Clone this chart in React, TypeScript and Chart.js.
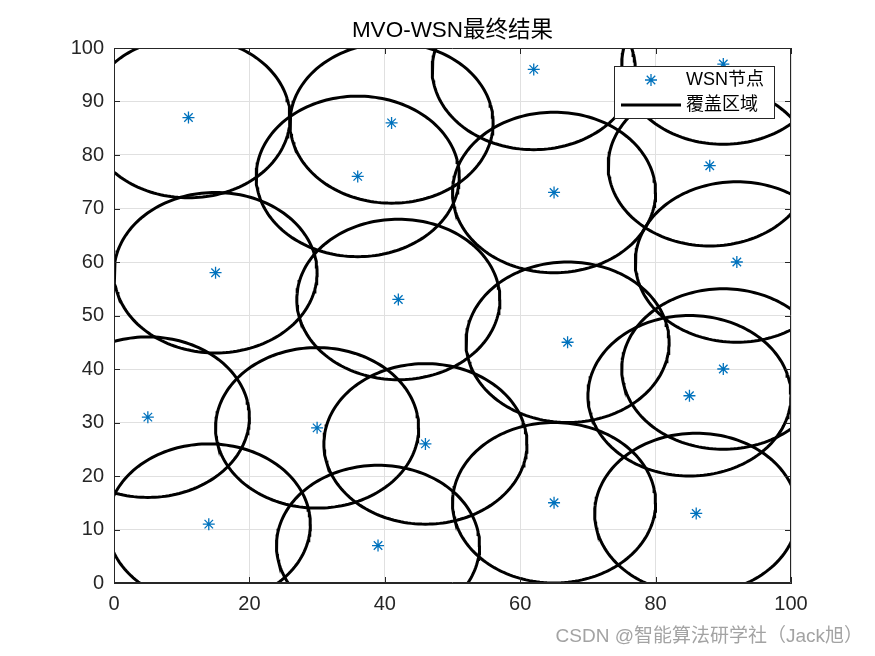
import React, { useEffect, useRef } from "react";
import { Chart, registerables } from "chart.js";

Chart.register(...registerables);

const TITLE = "MVO-WSN最终结果";
const NODE_LABEL = "WSN节点";
const AREA_LABEL = "覆盖区域";
const WATERMARK = "CSDN @智能算法研学社（Jack旭）";

const nodeX = [11, 36, 41, 62, 65, 90, 88, 15, 42, 92, 67, 5, 30, 46, 85, 90, 14, 39, 65, 86];
const nodeY = [87, 76, 86, 96, 73, 97, 78, 58, 53, 60, 45, 31, 29, 26, 35, 40, 11, 7, 15, 13];
const RADIUS = 15;
const xTicks = [0, 20, 40, 60, 80, 100];
const yTicks = [0, 10, 20, 30, 40, 50, 60, 70, 80, 90, 100];

const FONT = "Arial, 'Liberation Sans', 'Noto Sans CJK SC', sans-serif";
const AXIS_COLOR = "#262626";
const NODE_COLOR = "#0072BD";

function circlePoints(cx: number, cy: number, r: number) {
  const pts: { x: number; y: number }[] = [];
  const n = 180;
  for (let i = 0; i <= n; i++) {
    const t = (i / n) * Math.PI * 2;
    pts.push({ x: cx + r * Math.cos(t), y: cy + r * Math.sin(t) });
  }
  return pts;
}

const decorPlugin = {
  id: "decor",
  afterDraw(chart: any) {
    const { ctx, chartArea } = chart;
    const { left, right, top, bottom } = chartArea;
    const xs = chart.scales.x;
    const ys = chart.scales.y;
    ctx.save();
    // box
    ctx.strokeStyle = AXIS_COLOR;
    ctx.lineWidth = 1;
    ctx.beginPath();
    ctx.rect(left + 0.5, top + 0.5, right - left - 1, bottom - top - 1);
    ctx.stroke();
    // inward ticks
    ctx.beginPath();
    const tl = 6;
    for (const v of xTicks) {
      const px = Math.round(xs.getPixelForValue(v)) + 0.5;
      ctx.moveTo(px, bottom);
      ctx.lineTo(px, bottom - tl);
      ctx.moveTo(px, top);
      ctx.lineTo(px, top + tl);
    }
    for (const v of yTicks) {
      const py = Math.round(ys.getPixelForValue(v)) + 0.5;
      ctx.moveTo(left, py);
      ctx.lineTo(left + tl, py);
      ctx.moveTo(right, py);
      ctx.lineTo(right - tl, py);
    }
    ctx.stroke();

    // title
    ctx.fillStyle = "#000";
    ctx.font = `22.5px ${FONT}`;
    ctx.textAlign = "center";
    ctx.textBaseline = "middle";
    ctx.fillText(TITLE, (left + right) / 2, 31);

    // legend
    const lx = 614, ly = 66, lw = 160, lh = 52;
    ctx.fillStyle = "#fff";
    ctx.fillRect(lx, ly, lw, lh);
    ctx.strokeStyle = AXIS_COLOR;
    ctx.lineWidth = 1;
    ctx.strokeRect(lx + 0.5, ly + 0.5, lw, lh);
    // asterisk
    const ax = 651, ay = 80, ar = 6;
    ctx.strokeStyle = NODE_COLOR;
    ctx.lineWidth = 1.3;
    ctx.beginPath();
    for (let k = 0; k < 4; k++) {
      const a = (k * Math.PI) / 4;
      ctx.moveTo(ax - ar * Math.cos(a), ay - ar * Math.sin(a));
      ctx.lineTo(ax + ar * Math.cos(a), ay + ar * Math.sin(a));
    }
    ctx.stroke();
    ctx.strokeStyle = "#000";
    ctx.lineWidth = 3;
    ctx.beginPath();
    ctx.moveTo(621, 105);
    ctx.lineTo(681, 105);
    ctx.stroke();
    ctx.fillStyle = "#000";
    ctx.font = `18px ${FONT}`;
    ctx.textAlign = "left";
    ctx.textBaseline = "middle";
    ctx.fillText(NODE_LABEL, 686, 80);
    ctx.fillText(AREA_LABEL, 686, 105);

    // watermark
    ctx.fillStyle = "#a3a3a3";
    ctx.font = `19px ${FONT}`;
    ctx.textAlign = "right";
    ctx.fillText(WATERMARK, 863, 637);
    ctx.restore();
  },
};

export default function App() {
  const ref = useRef<HTMLCanvasElement | null>(null);
  useEffect(() => {
    document.body.style.margin = "0";
    const canvas = ref.current;
    if (!canvas) return;
    const circleSets = nodeX.map((x, i) => ({
      type: "line" as const,
      label: AREA_LABEL,
      data: circlePoints(x, nodeY[i], RADIUS),
      borderColor: "#000",
      borderWidth: 3,
      pointRadius: 0,
      showLine: true,
      fill: false,
      tension: 0,
      clip: 0,
    }));
    const nodeSet = {
      type: "scatter" as const,
      label: NODE_LABEL,
      data: nodeX.map((x, i) => ({ x, y: nodeY[i] })),
      pointStyle: "star",
      pointRadius: 6,
      borderColor: NODE_COLOR,
      backgroundColor: NODE_COLOR,
      borderWidth: 1.3,
      showLine: false,
      clip: 0,
    };
    const chart = new Chart(canvas, {
      type: "scatter",
      data: { datasets: [...circleSets, nodeSet] as any },
      options: {
        animation: false,
        responsive: false,
        maintainAspectRatio: false,
        layout: { padding: { top: 48, right: 84, left: 0, bottom: 0 } },
        plugins: { legend: { display: false }, tooltip: { enabled: false }, title: { display: false } },
        scales: {
          x: {
            type: "linear",
            min: 0,
            max: 100,
            afterFit: (s: any) => { s.height = 73; },
            afterBuildTicks: (s: any) => { s.ticks = xTicks.map((v) => ({ value: v })); },
            ticks: { color: AXIS_COLOR, font: { size: 20, family: FONT }, padding: 9, maxRotation: 0 },
            grid: { color: "#e0e0e0", drawTicks: false },
            border: { color: AXIS_COLOR },
          },
          y: {
            type: "linear",
            min: 0,
            max: 100,
            afterFit: (s: any) => { s.width = 114; },
            afterBuildTicks: (s: any) => { s.ticks = yTicks.map((v) => ({ value: v })); },
            ticks: { color: AXIS_COLOR, font: { size: 20, family: FONT }, padding: 10 },
            grid: { color: "#e0e0e0", drawTicks: false },
            border: { color: AXIS_COLOR },
          },
        },
      },
      plugins: [decorPlugin],
    });
    return () => chart.destroy();
  }, []);
  return (
    <div style={{ width: 875, height: 656, background: "#fff" }}>
      <canvas ref={ref} width={875} height={656} style={{ width: 875, height: 656, display: "block" }} />
    </div>
  );
}
